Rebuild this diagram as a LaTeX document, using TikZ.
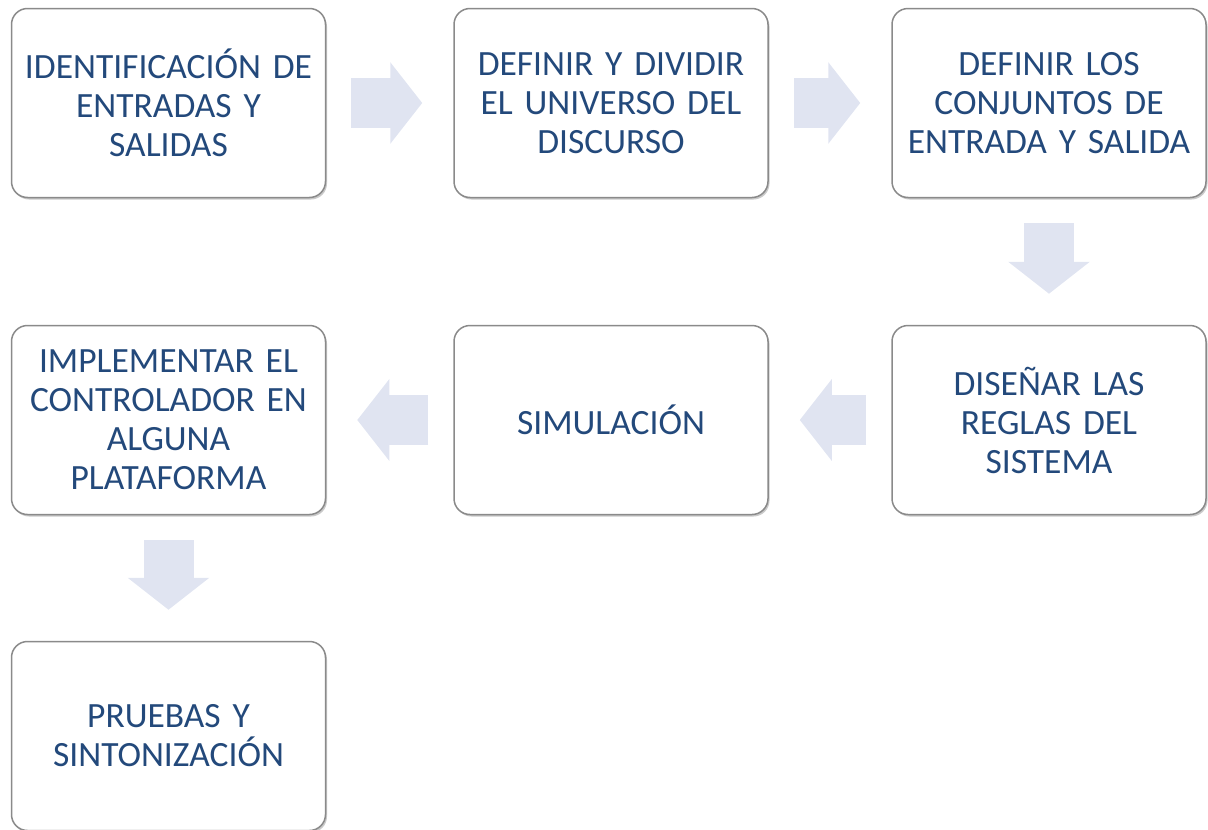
\documentclass[tikz,border=0pt]{standalone}
\usepackage{fontspec}
\setmainfont{Carlito}
\usepackage{tikz}
\usetikzlibrary{arrows.meta,shadows}
\definecolor{fundo}{HTML}{FFFFFF}
\definecolor{borda}{HTML}{8A8A8A}
\definecolor{texto}{HTML}{23497B}
\definecolor{corseta}{HTML}{E0E4F1}

\begin{document}
\begin{tikzpicture}[x=1pt,y=-1pt, font=\fontsize{35.5}{39}\selectfont,
    caixa/.style={draw=borda, line width=1.5pt, rounded corners=16pt, fill=fundo, text=texto, minimum height=189pt, minimum width=314pt, text width=306pt, align=center, inner sep=0pt, drop shadow={shadow xshift=1.5pt, shadow yshift=-2pt, opacity=0.35, fill=black!60}},
    seta/.style={-{Triangle[length=32pt,width=80pt]}, line width=50pt, draw=corseta, fill=corseta, shorten <=25pt, shorten >=31pt}]
  \useasboundingbox (0,0) rectangle (1208,830);
  \node[caixa] (c1) at (168.5,103) {IDENTIFICACIÓN DE\\ENTRADAS Y\\SALIDAS};
  \node[caixa] (c2) at (611,103) {DEFINIR Y DIVIDIR\\EL UNIVERSO DEL\\DISCURSO};
  \node[caixa] (c3) at (1049,103) {DEFINIR LOS\\CONJUNTOS DE\\ENTRADA Y SALIDA};
  \node[caixa] (c4) at (1049,420) {DISEÑAR LAS\\REGLAS DEL\\SISTEMA};
  \node[caixa] (c5) at (611,420) {SIMULACIÓN};
  \node[caixa] (c6) at (168.5,420) {IMPLEMENTAR EL\\CONTROLADOR EN\\ALGUNA\\PLATAFORMA};
  \node[caixa] (c7) at (168.5,736) {PRUEBAS Y\\SINTONIZACIÓN};
  \foreach \a/\b in {c1.east/c2.west,c2.east/c3.west,c3.south/c4.north,c4.west/c5.east,c5.west/c6.east,c6.south/c7.north}{\draw[seta] (\a) -- (\b);}
\end{tikzpicture}
\end{document}
